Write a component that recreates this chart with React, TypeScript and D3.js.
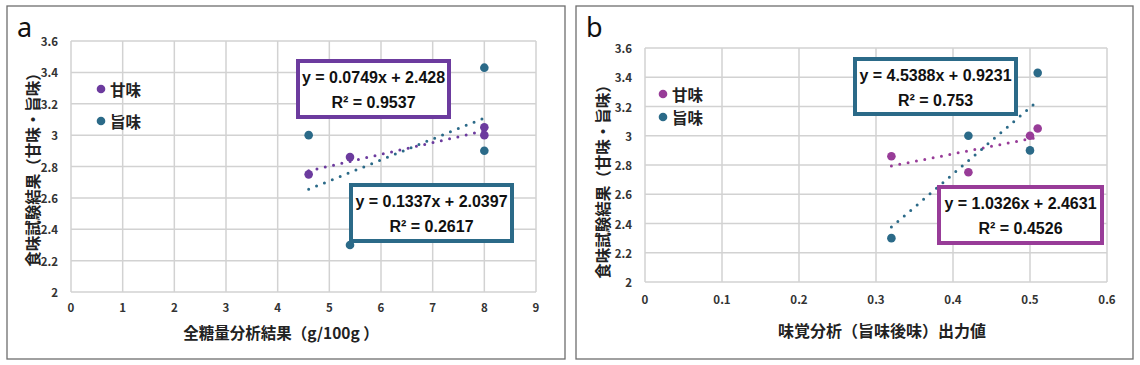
import React from 'react';
import * as d3 from 'd3';

// panel a: total sugar (g/100g)
const sugarX = [4.6, 5.4, 8, 8];
const sugarSweet = [2.75, 2.86, 3.05, 3.0];
const sugarUmami = [3.0, 2.3, 3.43, 2.9];

// panel b: taste sensor output
const sensorX = [0.32, 0.42, 0.5, 0.51];
const sensorSweet = [2.86, 2.75, 3.0, 3.05];
const sensorUmami = [2.3, 3.0, 2.9, 3.43];

// trendline slope / intercept / R²
const sugarSweetFit = [0.0749, 2.428, 0.9537];
const sugarUmamiFit = [0.1337, 2.0397, 0.2617];
const sensorSweetFit = [1.0326, 2.4631, 0.4526];
const sensorUmamiFit = [4.5388, 0.9231, 0.753];

const seriesNames = ['甘味', '旨味'];
const yTicks = [2, 2.2, 2.4, 2.6, 2.8, 3, 3.2, 3.4, 3.6];
const sugarTicks = [0, 1, 2, 3, 4, 5, 6, 7, 8, 9];
const sensorTicks = [0, 0.1, 0.2, 0.3, 0.4, 0.5, 0.6];

const CJK = '"Noto Sans CJK JP", "Noto Sans", sans-serif';
const EQ = '"Liberation Sans", Arial, sans-serif';
const TEAL = '#2B6A88';
const PURPLE = '#6C3B9E';
const MAGENTA = '#983C98';

const fmtEq = (m, b) => `y = ${m}x + ${b}`;

const Panel = ({p}) => {
    const x = d3.scaleLinear().domain(p.xDomain).range([p.left, p.right]);
    const y = d3.scaleLinear().domain([2, 3.6]).range([p.bottom, p.top]);
    const xmin = d3.min(p.xs), xmax = d3.max(p.xs);

    const trend = (fit, color) => (
        <line x1={x(xmin)} y1={y(fit[0] * xmin + fit[1])}
              x2={x(xmax)} y2={y(fit[0] * xmax + fit[1])}
              stroke={color} strokeWidth={3} strokeLinecap="round"
              strokeDasharray="0 8.5"/>
    );

    const box = (b, fit, color) => (
        <g>
            <rect x={b.x0} y={b.y0} width={b.x1 - b.x0} height={b.y1 - b.y0}
                  fill="#fff" stroke={color} strokeWidth={4}/>
            <text x={(b.x0 + b.x1) / 2} y={b.y0 + 22} textAnchor="middle"
                  fontFamily={EQ} fontWeight="bold" fontSize={16} fill="#111">{fmtEq(fit[0], fit[1])}</text>
            <text x={(b.x0 + b.x1) / 2} y={b.y0 + 47} textAnchor="middle"
                  fontFamily={EQ} fontWeight="bold" fontSize={16} fill="#111">R² = {fit[2]}</text>
        </g>
    );

    return (
        <g>
            <rect x={p.bx0} y={6} width={p.bx1 - p.bx0} height={353} fill="#fff" stroke="#6e6e6e" strokeWidth={1.3}/>
            <text x={p.bx0 + 10} y={37} fontFamily='"Noto Sans", sans-serif' fontSize={27} fill="#111">{p.letter}</text>

            {p.xTicks.map(t => (
                <line key={'gx' + t} x1={x(t)} x2={x(t)} y1={p.top} y2={p.bottom} stroke="#d2d2d2" strokeWidth={1.5}/>
            ))}
            {yTicks.map(t => (
                <line key={'gy' + t} x1={p.left} x2={p.right} y1={y(t)} y2={y(t)} stroke="#d2d2d2" strokeWidth={1.5}/>
            ))}

            {p.xTicks.map(t => (
                <text key={'tx' + t} x={x(t)} y={p.bottom + p.xLabelDy} textAnchor="middle" dominantBaseline="central"
                      fontFamily={CJK} fontWeight="bold" fontSize={11.5} fill="#333">{t}</text>
            ))}
            {yTicks.map(t => (
                <text key={'ty' + t} x={p.left - 13} y={y(t)} textAnchor="end" dominantBaseline="central"
                      fontFamily={CJK} fontWeight="bold" fontSize={11.5} fill="#333">{t}</text>
            ))}

            <text transform={`translate(${p.yTitleX},${p.yTitleY}) rotate(-90)`} textAnchor="middle" dominantBaseline="central"
                  fontFamily={CJK} fontWeight="bold" fontSize={15.5} fill="#222">食味試験結果（甘味・旨味）</text>
            <text x={p.xTitleX} y={p.xTitleY} textAnchor="middle" dominantBaseline="central"
                  fontFamily={CJK} fontWeight="bold" fontSize={p.xTitleSize} fill="#222">{p.xTitle}</text>

            {p.xs.map((v, i) => (
                <circle key={'s' + i} cx={x(v)} cy={y(p.sweet[i])} r={4.3} fill={p.sweetColor}/>
            ))}
            {p.xs.map((v, i) => (
                <circle key={'u' + i} cx={x(v)} cy={y(p.umami[i])} r={4.3} fill={TEAL}/>
            ))}

            {trend(p.sweetFit, p.sweetColor)}
            {trend(p.umamiFit, TEAL)}

            {seriesNames.map((name, i) => (
                <g key={name}>
                    <circle cx={p.legX} cy={p.legY[i]} r={4.3} fill={i === 0 ? p.sweetColor : TEAL}/>
                    <text x={p.legX + 9} y={p.legY[i]} dominantBaseline="central"
                          fontFamily={CJK} fontWeight="bold" fontSize={15.5} fill="#222">{name}</text>
                </g>
            ))}

            {box(p.sweetBox, p.sweetFit, p.sweetColor)}
            {box(p.umamiBox, p.umamiFit, TEAL)}
        </g>
    );
};

const panels = [
    {
        letter: 'a', bx0: 7, bx1: 565, left: 71, right: 536, top: 41, bottom: 292,
        xDomain: [0, 9], xTicks: sugarTicks, xLabelDy: 15,
        xs: sugarX, sweet: sugarSweet, umami: sugarUmami,
        sweetFit: sugarSweetFit, umamiFit: sugarUmamiFit, sweetColor: PURPLE,
        yTitleX: 32, yTitleY: 166,
        xTitle: '全糖量分析結果（g/100g ）', xTitleX: 281, xTitleY: 332, xTitleSize: 15.5,
        legX: 101, legY: [89, 121],
        sweetBox: {x0: 298, x1: 449, y0: 61, y1: 117},
        umamiBox: {x0: 351, x1: 512, y0: 185, y1: 241},
    },
    {
        letter: 'b', bx0: 576, bx1: 1133, left: 645, right: 1107, top: 48, bottom: 282,
        xDomain: [0, 0.6], xTicks: sensorTicks, xLabelDy: 17,
        xs: sensorX, sweet: sensorSweet, umami: sensorUmami,
        sweetFit: sensorSweetFit, umamiFit: sensorUmamiFit, sweetColor: MAGENTA,
        yTitleX: 602, yTitleY: 178,
        xTitle: '味覚分析（旨味後味）出力値', xTitleX: 882, xTitleY: 330, xTitleSize: 16,
        legX: 663, legY: [94, 117],
        sweetBox: {x0: 939, x1: 1102, y0: 187, y1: 243},
        umamiBox: {x0: 855, x1: 1016, y0: 59, y1: 114},
    },
];

export default function App() {
    return (
        <svg width={1140} height={365} style={{position: 'absolute', left: 0, top: 0, background: '#fff'}}>
            {panels.map(p => <Panel key={p.letter} p={p}/>)}
        </svg>
    );
}
